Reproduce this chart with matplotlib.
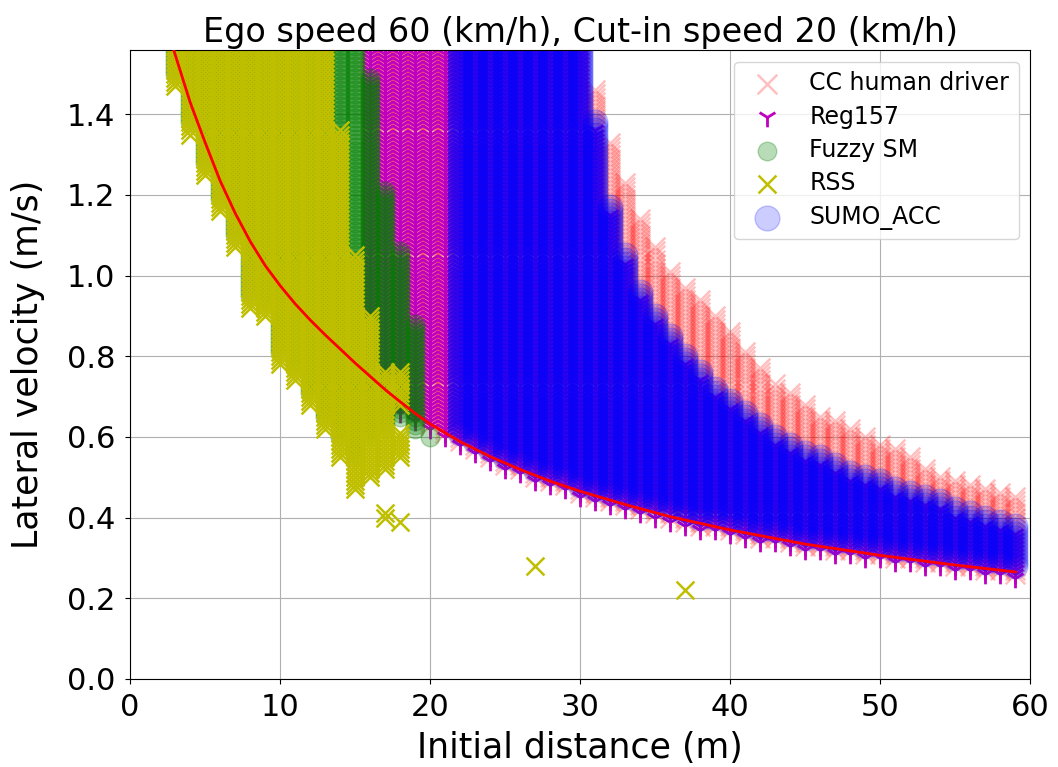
import numpy as np
import matplotlib
matplotlib.use("Agg")
import matplotlib.pyplot as plt

# grid step of the tested lateral velocities (m/s)
v_step = 0.01
v_top = 1.60  # columns run past the top of the view

# --- RSS (yellow x): one entry per column segment ---
rss_x = [3, 4, 5, 6, 7, 8, 9, 10, 11, 12, 13, 14, 15, 16, 17, 18, 18]
rss_lo = [1.47, 1.35, 1.25, 1.16, 1.07, 0.92, 0.90, 0.78, 0.74, 0.68, 0.62,
          0.55, 0.47, 0.50, 0.52, 0.55, 0.68]
rss_hi = [v_top] * 11 + [1.36, 1.05, 0.90, 0.76, 0.61, 0.76]
# isolated RSS points
rss_px = [17, 17, 18, 27, 37]
rss_py = [0.40, 0.41, 0.39, 0.28, 0.22]

# --- Fuzzy SM (green o) ---
fuzzy_x = [3, 4, 5, 6, 7, 8, 9, 10, 11, 12, 13, 14, 15, 16, 17, 18, 19, 20]
fuzzy_lo = [1.50, 1.38, 1.28, 1.19, 1.10, 0.95, 0.93, 0.81, 0.77, 0.71, 0.65,
            0.60, 0.55, 0.60, 0.62, 0.65, 0.62, 0.60]
fuzzy_hi = [v_top] * 13 + [1.49, 1.21, 1.06, 0.88, 0.60]

# --- Reg157 / CC human driver / SUMO_ACC share the lower edge ---
dist_x = list(range(16, 60))
edge_lo = [0.72, 0.69, 0.66, 0.64, 0.62, 0.60, 0.58, 0.56, 0.54, 0.52, 0.51,
           0.49, 0.48, 0.47, 0.45, 0.44, 0.43, 0.42, 0.41, 0.40, 0.39, 0.38,
           0.37, 0.37, 0.36, 0.35, 0.34, 0.34, 0.33, 0.32, 0.32, 0.31, 0.31,
           0.30, 0.30, 0.29, 0.29, 0.28, 0.28, 0.27, 0.27, 0.26, 0.26, 0.25]

# upper edge of CC human driver for x = 31..59 (below 31 it runs off the top)
cc_hi_right = [1.46, 1.33, 1.23, 1.14, 1.07, 1.01, 0.97, 0.94, 0.90, 0.86,
               0.81, 0.77, 0.73, 0.71, 0.68, 0.65, 0.64, 0.62, 0.60, 0.58,
               0.57, 0.55, 0.52, 0.50, 0.49, 0.48, 0.47, 0.46, 0.45]
# upper edge of SUMO_ACC for x = 31..59
sumo_hi_right = [1.38, 1.17, 1.05, 0.96, 0.90, 0.85, 0.80, 0.76, 0.72, 0.69,
                 0.66, 0.63, 0.60, 0.58, 0.56, 0.55, 0.53, 0.51, 0.50, 0.49,
                 0.47, 0.46, 0.45, 0.44, 0.42, 0.41, 0.40, 0.39, 0.38]
sumo_first_x = 22

# red boundary curve
curve_x = [2.9, 4, 5, 6, 7, 8, 9, 10, 11, 12, 13, 14, 15, 16, 17, 18, 19,
           20, 22, 24, 26, 28, 30, 33, 36, 40, 45, 50, 55, 59]
curve_y = [1.56, 1.43, 1.33, 1.235, 1.155, 1.085, 1.025, 0.975, 0.93, 0.89,
           0.853, 0.818, 0.783, 0.75, 0.717, 0.687, 0.658, 0.632, 0.588,
           0.551, 0.519, 0.49, 0.465, 0.432, 0.402, 0.369, 0.334, 0.306,
           0.282, 0.265]


def columns(xs, los, his):
    # expand column bounds into the tested (distance, velocity) grid
    px, py = [], []
    for x, lo, hi in zip(xs, los, his):
        v = np.arange(lo, hi + 1e-9, v_step)
        px.extend([x] * len(v))
        py.extend(v)
    return np.array(px), np.array(py)


n_left = 31 - dist_x[0]
cc_hi = [v_top] * n_left + cc_hi_right
reg_hi = [v_top] * n_left + [h - 0.02 for h in sumo_hi_right]
sumo_hi = [v_top] * n_left + sumo_hi_right

cc_x, cc_y = columns(dist_x, [v + 0.01 for v in edge_lo], cc_hi)
reg_x, reg_y = columns(dist_x, edge_lo, reg_hi)
fz_x, fz_y = columns(fuzzy_x, fuzzy_lo, fuzzy_hi)
rs_x, rs_y = columns(rss_x, rss_lo, rss_hi)
rs_x = np.concatenate([rs_x, rss_px])
rs_y = np.concatenate([rs_y, rss_py])
k = sumo_first_x - dist_x[0]
su_x, su_y = columns(dist_x[k:], [v + 0.03 for v in edge_lo[k:]], sumo_hi[k:])

fig, ax = plt.subplots(figsize=(10.58, 7.67), dpi=100)
fig.subplots_adjust(left=0.123, right=0.974, bottom=0.115, top=0.935)

ax.scatter(cc_x, cc_y, marker='x', s=200, color='r', alpha=0.25,
           linewidths=1.8, label='CC human driver', zorder=2)
ax.scatter(reg_x, reg_y, marker='1', s=200, color='m', linewidths=2,
           label='Reg157', zorder=2)
ax.scatter(fz_x, fz_y, marker='o', s=180, color='g', alpha=0.28,
           label='Fuzzy SM', zorder=2)
ax.scatter(rs_x, rs_y, marker='x', s=165, color='y', linewidths=1.8,
           label='RSS', zorder=2)
ax.scatter(su_x, su_y, marker='o', s=320, color='b', alpha=0.2,
           label='SUMO_ACC', zorder=2)
ax.plot(curve_x, curve_y, color='r', linewidth=2, zorder=3)

ax.set_xlim(0, 60)
ax.set_ylim(0, 1.56)
ax.set_title('Ego speed 60 (km/h), Cut-in speed 20 (km/h)', fontsize=24)
ax.set_xlabel('Initial distance (m)', fontsize=25, labelpad=6)
ax.set_ylabel('Lateral velocity (m/s)', fontsize=25, labelpad=16)
ax.tick_params(labelsize=22, pad=7)
ax.grid(True)
ax.legend(loc='upper right', fontsize=17, labelspacing=0.4)

fig.savefig('out.png')
